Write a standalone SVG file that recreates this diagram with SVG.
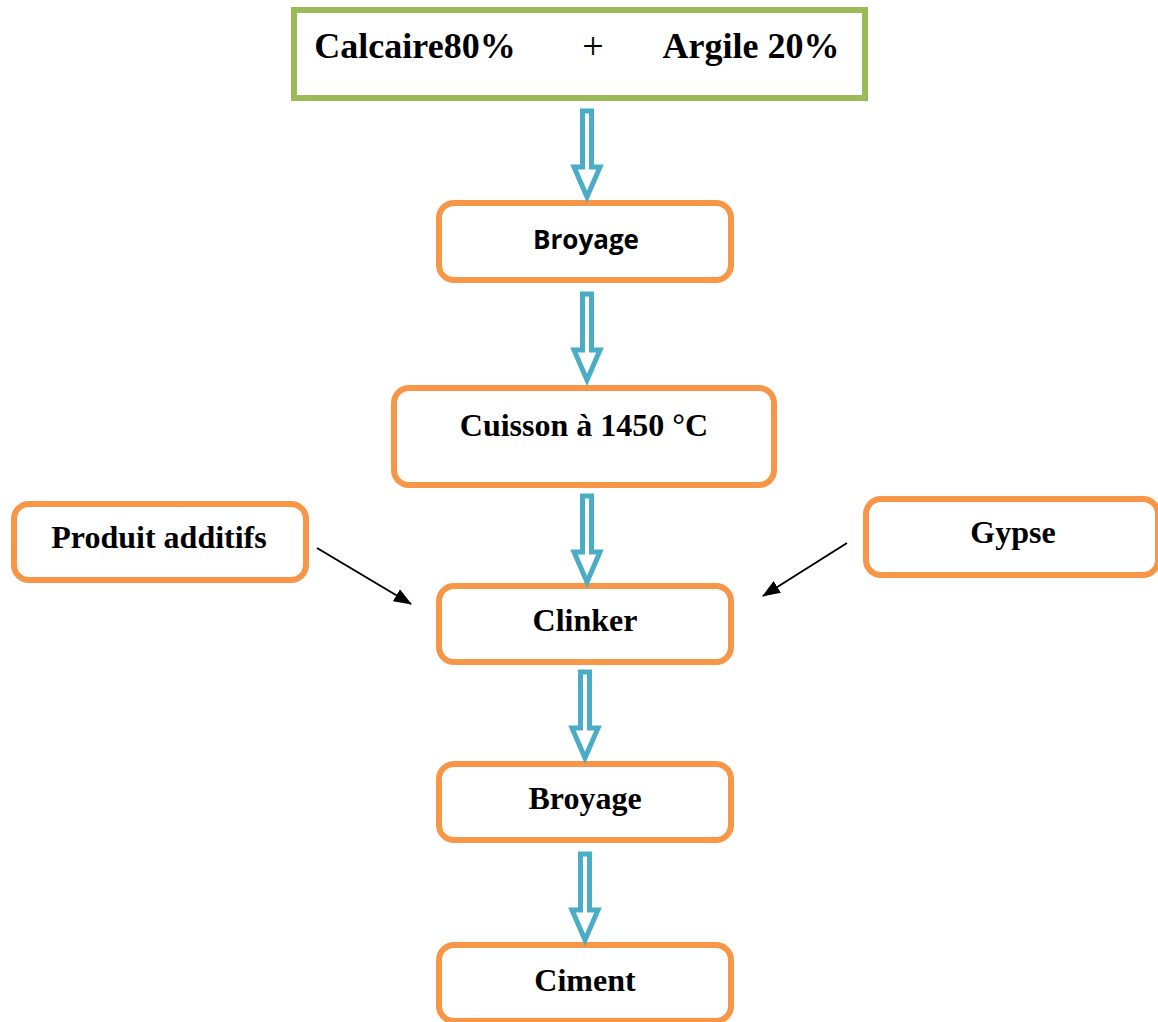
<svg xmlns="http://www.w3.org/2000/svg" width="1158" height="1022" viewBox="0 0 1158 1022">
<style>
.box{fill:#fff;stroke:#F79646;stroke-width:6}
.top{fill:#fff;stroke:#9BBB59;stroke-width:6}
.t{font-family:"Liberation Serif","Times New Roman",serif;font-weight:bold;fill:#000;text-anchor:middle;font-size:32px}
.s{font-family:"Open Sans","Liberation Sans",sans-serif;font-weight:bold;fill:#000;text-anchor:middle}
.blk{stroke:#000;stroke-width:2;fill:none;marker-end:url(#ah)}
</style>
<defs>
<path id="dbl" d="M-4.5,0 H4.5 V56 H13 L0,86 L-13,56 H-4.5 Z" fill="#fff" stroke="#4BACC6" stroke-width="5" stroke-linejoin="miter"/>
<marker id="ah" viewBox="0 0 18 14" refX="17" refY="7" markerWidth="18" markerHeight="14" markerUnits="userSpaceOnUse" orient="auto">
<path d="M0,0 L18,7 L0,14 Z" fill="#000"/>
</marker>
</defs>
<g id="n-top">
<rect class="top" x="294" y="10" width="571" height="88"/>
<text class="t" style="font-size:36px" x="415" y="58">Calcaire80%</text>
<text x="593" y="59" font-family="Liberation Serif, serif" font-size="38" text-anchor="middle" fill="#000">+</text>
<text class="t" style="font-size:36px" x="751" y="58">Argile 20%</text>
</g>
<g id="n-broyage1">
<rect class="box" x="439" y="203" width="292" height="77" rx="15"/>
<text class="s" font-size="26" x="586" y="249">Broyage</text>
</g>
<g id="n-cuisson">
<rect class="box" x="394" y="388" width="380" height="97" rx="15"/>
<text class="t" x="584" y="436">Cuisson à 1450 °C</text>
</g>
<g id="n-additifs">
<rect class="box" x="14" y="504" width="292" height="76" rx="15"/>
<text class="t" x="159" y="548">Produit additifs</text>
</g>
<g id="n-gypse">
<rect class="box" x="866" y="499" width="292" height="76" rx="15"/>
<text class="t" x="1013" y="543">Gypse</text>
</g>
<g id="n-clinker">
<rect class="box" x="439" y="586" width="292" height="76" rx="15"/>
<text class="t" x="585" y="631">Clinker</text>
</g>
<g id="n-broyage2">
<rect class="box" x="439" y="764" width="292" height="76" rx="15"/>
<text class="t" x="585" y="809">Broyage</text>
</g>
<g id="n-ciment">
<rect class="box" x="439" y="945" width="292" height="76" rx="15"/>
<text class="t" x="585" y="991">Ciment</text>
</g>
<g id="connectors">
<use href="#dbl" x="587" y="111"/>
<use href="#dbl" x="587" y="294"/>
<use href="#dbl" x="587" y="496"/>
<use href="#dbl" x="585" y="672"/>
<use href="#dbl" x="585" y="854"/>
<line class="blk" x1="317" y1="548" x2="411" y2="604"/>
<line class="blk" x1="847" y1="543" x2="763" y2="596"/>
</g>
</svg>
